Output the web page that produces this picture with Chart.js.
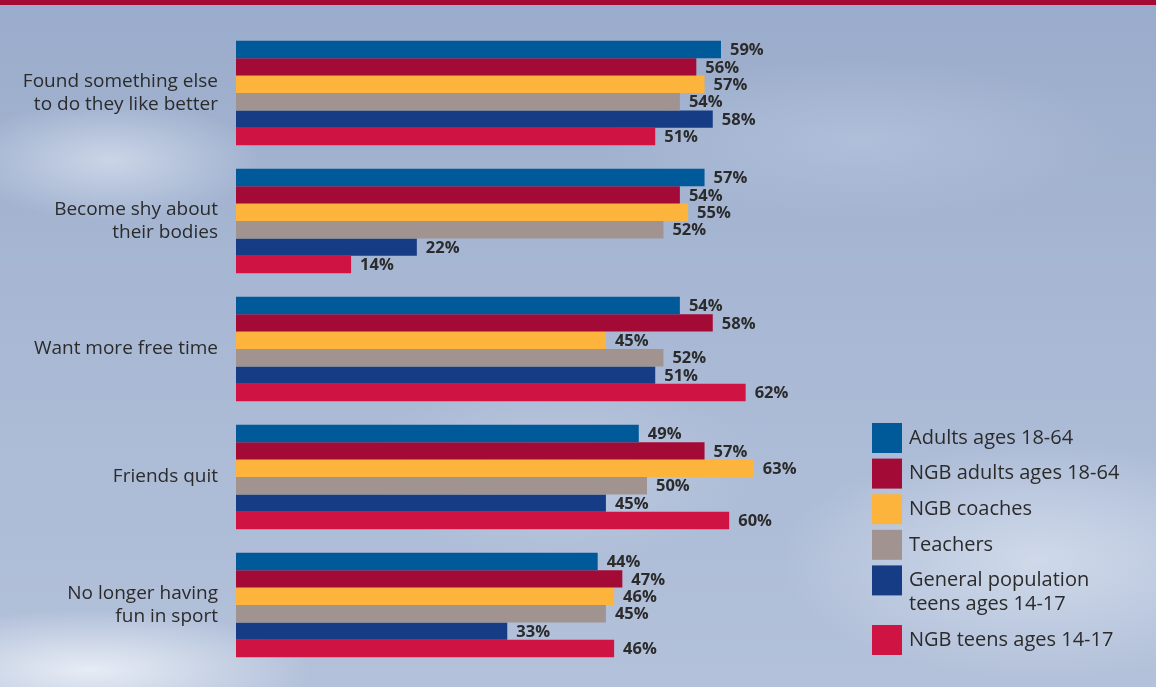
<!DOCTYPE html>
<html>
<head>
<meta charset="utf-8">
<script src="https://cdn.jsdelivr.net/npm/chart.js@4/dist/chart.umd.min.js"></script>
<style>
  html, body { margin: 0; padding: 0; overflow: hidden; }
  #wrap {
    position: relative; width: 1156px; height: 687px;
    background:
      radial-gradient(ellipse 150px 60px at 110px 160px, rgba(230,236,246,0.6), rgba(230,236,246,0) 100%),
      radial-gradient(ellipse 220px 60px at 90px 670px, rgba(240,244,250,0.85), rgba(240,244,250,0) 100%),
      radial-gradient(ellipse 260px 120px at 1040px 560px, rgba(215,224,238,0.8), rgba(215,224,238,0) 100%),
      radial-gradient(ellipse 200px 90px at 560px 470px, rgba(200,212,232,0.55), rgba(200,212,232,0) 100%),
      radial-gradient(ellipse 260px 80px at 860px 140px, rgba(190,204,228,0.5), rgba(190,204,228,0) 100%),
      linear-gradient(180deg, #9aaccb 0%, #a8b8d4 45%, #b3c1da 100%);
  }
  #topbar { position: absolute; left: 0; top: 0; width: 1156px; height: 5px; background: #a50a33; }
  canvas { position: absolute; left: 0; top: 0; }
</style>
</head>
<body>
<div id="wrap">
  <div id="topbar"></div>
  <canvas id="chart" width="1156" height="687"></canvas>
</div>
<script>
(() => {
  // === Datos ===
  const CATEGORIES = [
    ["Found something else", "to do they like better"],
    ["Become shy about", "their bodies"],
    "Want more free time",
    "Friends quit",
    ["No longer having", "fun in sport"]
  ];
  const SERIES_NAMES = [
    ["Adults ages 18-64"],
    ["NGB adults ages 18-64"],
    ["NGB coaches"],
    ["Teachers"],
    ["General population", "teens ages 14-17"],
    ["NGB teens ages 14-17"]
  ];
  const adults    = [59, 57, 54, 49, 44];
  const ngbAdults = [56, 54, 58, 57, 47];
  const coaches   = [57, 55, 45, 63, 46];
  const teachers  = [54, 52, 52, 50, 45];
  const genTeens  = [58, 22, 51, 45, 33];
  const ngbTeens  = [51, 14, 62, 60, 46];
  const COLORS = ["#005a9a", "#a30a35", "#fdb43c", "#a09390", "#163c85", "#cf1443"];

  const SERIES = [adults, ngbAdults, coaches, teachers, genTeens, ngbTeens];
  const FONT = "'Open Sans', 'Noto Sans', sans-serif";
  const TEXT = "#2b2b2b";

  // Etiquetas de valor al final de cada barra
  const valueLabels = {
    id: "valueLabels",
    afterDatasetsDraw(chart) {
      const ctx = chart.ctx;
      ctx.save();
      ctx.font = "bold 16.5px " + FONT;
      ctx.fillStyle = TEXT;
      ctx.textAlign = "left";
      ctx.textBaseline = "middle";
      chart.data.datasets.forEach((ds, i) => {
        chart.getDatasetMeta(i).data.forEach((bar, j) => {
          ctx.fillText(ds.data[j] + "%", bar.x + 9, bar.y + 1);
        });
      });
      ctx.restore();
    }
  };

  // Leyenda a la derecha
  const sideLegend = {
    id: "sideLegend",
    afterDraw(chart) {
      const ctx = chart.ctx;
      ctx.save();
      ctx.font = "20px " + FONT;
      ctx.textAlign = "left";
      ctx.textBaseline = "middle";
      let y = 423;
      SERIES_NAMES.forEach((lines, i) => {
        ctx.fillStyle = COLORS[i];
        ctx.fillRect(872, y, 30, 30);
        ctx.fillStyle = TEXT;
        lines.forEach((t, k) => ctx.fillText(t, 909, y + 15 + k * 24));
        y += 35.6 + (lines.length - 1) * 24;
      });
      ctx.restore();
    }
  };

  new Chart(document.getElementById("chart"), {
    type: "bar",
    data: {
      labels: CATEGORIES,
      datasets: SERIES.map((d, i) => ({
        label: SERIES_NAMES[i].join(" "),
        data: d,
        backgroundColor: COLORS[i],
        borderWidth: 0,
        barPercentage: 1.0,
        categoryPercentage: 0.815
      }))
    },
    options: {
      indexAxis: "y",
      responsive: false,
      animation: false,
      layout: { padding: { left: 0, right: 98, top: 29, bottom: 18 } },
      plugins: { legend: { display: false }, tooltip: { enabled: false } },
      scales: {
        x: { display: false, min: 0, max: 100 },
        y: {
          grid: { display: false, drawTicks: false },
          border: { display: false },
          ticks: { color: TEXT, font: { family: FONT, size: 19, lineHeight: 1.25 }, padding: 18 },
          afterFit: (s) => {
            s.width = 236;
            s.paddingTop = 0;
            s.paddingBottom = 0;
          }
        }
      }
    },
    plugins: [valueLabels, sideLegend]
  });
})();
</script>
</body>
</html>
